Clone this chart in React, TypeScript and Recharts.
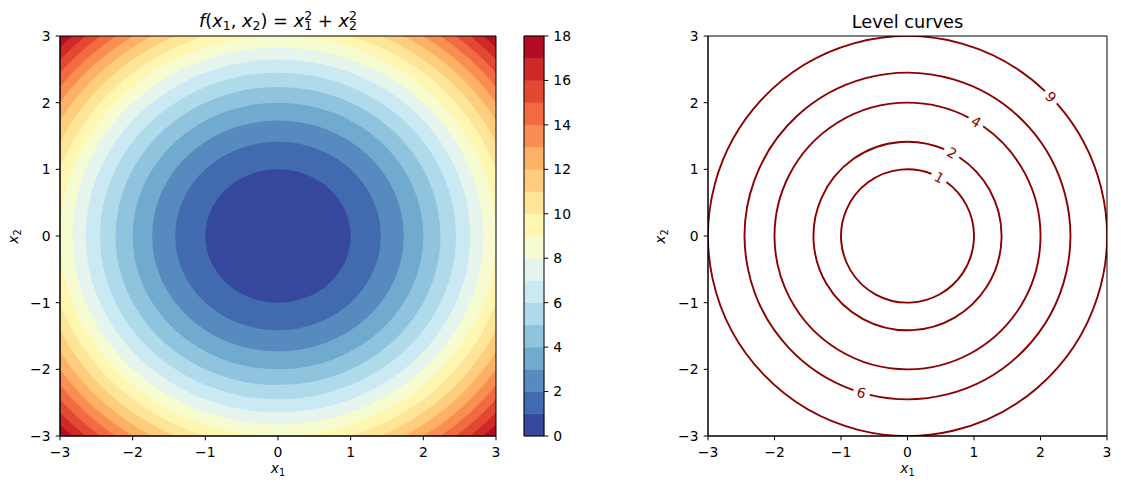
import React from "react";
import { ComposedChart, XAxis, YAxis, ReferenceArea } from "recharts";

// f(x1, x2) = x1^2 + x2^2 on [-3, 3] x [-3, 3]
const AXIS_TICKS = [-3, -2, -1, 0, 1, 2, 3];
const FILL_LEVELS = [0, 1, 2, 3, 4, 5, 6, 7, 8, 9, 10, 11, 12, 13, 14, 15, 16, 17, 18];
const CBAR_TICKS = [0, 2, 4, 6, 8, 10, 12, 14, 16, 18];
const CURVE_LEVELS = [1, 2, 4, 6, 9];
// where each inline label sits on its curve (degrees, counter-clockwise from +x1)
const CURVE_LABEL_ANGLES = [61.5, 61.8, 59, -106.4, 44];

// RdYlBu_r, one colour per band between FILL_LEVELS
const BAND_COLORS = [
  "#36479e", "#426aaf", "#578bbf", "#71aacf", "#90c3dd", "#aedaea",
  "#cbe9f2", "#e5f5ee", "#f6fccf", "#fff6b2", "#fee597", "#fecd7e",
  "#fdb164", "#f98e52", "#f26a41", "#e24832", "#cf2827", "#b30d26",
];

const FONT = "DejaVu Sans";
const TICK = { fontSize: 13.9, fill: "#000", fontFamily: FONT };
const CURVE_COLOR = "#8b0000";
const GAP = 17;

const fmt = (v: number) => (v < 0 ? "\u2212" + Math.abs(v) : String(v));

function ellipseShape(fill: string) {
  return (p: any) => (
    <ellipse
      cx={p.x + p.width / 2}
      cy={p.y + p.height / 2}
      rx={p.width / 2}
      ry={p.height / 2}
      fill={fill}
      stroke="none"
      clipPath={p.clipPath}
    />
  );
}

function ringShape(level: number, angleDeg: number) {
  return (p: any) => {
    const cx = p.x + p.width / 2;
    const cy = p.y + p.height / 2;
    const rx = p.width / 2;
    const ry = p.height / 2;
    const t = (angleDeg * Math.PI) / 180;
    const half = GAP / 2 / rx;
    const pt = (a: number) => [cx + rx * Math.cos(a), cy - ry * Math.sin(a)];
    const [sx, sy] = pt(t + half);
    const [ex, ey] = pt(t - half + 2 * Math.PI);
    const [lx, ly] = pt(t);
    let rot = 90 - angleDeg;
    while (rot > 90) rot -= 180;
    while (rot < -90) rot += 180;
    return (
      <g>
        <path
          d={`M${sx},${sy} A${rx},${ry} 0 1 0 ${ex},${ey}`}
          fill="none"
          stroke={CURVE_COLOR}
          strokeWidth={1.9}
          clipPath={p.clipPath}
        />
        <text
          x={lx}
          y={ly}
          transform={`rotate(${rot} ${lx} ${ly})`}
          textAnchor="middle"
          dominantBaseline="central"
          fontFamily={FONT}
          fontSize={13.9}
          fill={CURVE_COLOR}
        >
          {level}
        </text>
      </g>
    );
  };
}

function Axes() {
  return [
    <XAxis
      key="x"
      type="number"
      dataKey="x"
      domain={[-3, 3]}
      ticks={AXIS_TICKS}
      allowDataOverflow
      interval={0}
      height={54}
      tick={TICK}
      tickFormatter={fmt}
      tickSize={4.3}
      tickMargin={7.2}
      stroke="#000"
    />,
    <YAxis
      key="y"
      type="number"
      dataKey="y"
      domain={[-3, 3]}
      ticks={AXIS_TICKS}
      allowDataOverflow
      interval={0}
      width={60}
      tick={TICK}
      tickFormatter={fmt}
      tickSize={4.3}
      tickMargin={5.2}
      stroke="#000"
    />,
  ];
}

function FilledContour() {
  const bands = [];
  for (let k = FILL_LEVELS.length - 2; k >= 0; k--) {
    const r = Math.sqrt(FILL_LEVELS[k + 1]);
    bands.push(
      <ReferenceArea
        key={k}
        x1={-r}
        x2={r}
        y1={-r}
        y2={r}
        ifOverflow="hidden"
        shape={ellipseShape(BAND_COLORS[k])}
      />
    );
  }
  return (
    <ComposedChart width={520} height={490} margin={{ top: 36, right: 24, bottom: 0, left: 0 }} data={[]}>
      {Axes()}
      <ReferenceArea x1={-3} x2={3} y1={-3} y2={3} fill={BAND_COLORS[17]} fillOpacity={1} ifOverflow="hidden" />
      {bands}
      <ReferenceArea x1={-3} x2={3} y1={-3} y2={3} fill="none" stroke="#000" strokeWidth={1} ifOverflow="visible" />
    </ComposedChart>
  );
}

function ColorBar() {
  return (
    <ComposedChart width={90} height={490} margin={{ top: 36, right: 0, bottom: 54, left: 24 }} data={[]}>
      <XAxis type="number" dataKey="x" domain={[0, 1]} allowDataOverflow hide />
      <YAxis
        type="number"
        dataKey="y"
        orientation="right"
        domain={[0, 18]}
        ticks={CBAR_TICKS}
        allowDataOverflow
        interval={0}
        width={46}
        axisLine={false}
        tick={TICK}
        tickSize={4.3}
        tickMargin={5}
        stroke="#000"
      />
      {BAND_COLORS.map((c, k) => (
        <ReferenceArea
          key={k}
          x1={0}
          x2={1}
          y1={FILL_LEVELS[k]}
          y2={FILL_LEVELS[k + 1]}
          fill={c}
          fillOpacity={1}
          stroke={c}
          strokeWidth={0.5}
          ifOverflow="visible"
        />
      ))}
      <ReferenceArea x1={0} x2={1} y1={0} y2={18} fill="none" stroke="#000" strokeWidth={1} ifOverflow="visible" />
    </ComposedChart>
  );
}

function LevelCurves() {
  return (
    <ComposedChart width={473} height={490} margin={{ top: 36, right: 14, bottom: 0, left: 0 }} data={[]}>
      {Axes()}
      {CURVE_LEVELS.map((c, i) => {
        const r = Math.sqrt(c);
        return (
          <ReferenceArea
            key={c}
            x1={-r}
            x2={r}
            y1={-r}
            y2={r}
            ifOverflow="hidden"
            shape={ringShape(c, CURVE_LABEL_ANGLES[i])}
          />
        );
      })}
      <ReferenceArea x1={-3} x2={3} y1={-3} y2={3} fill="none" stroke="#000" strokeWidth={1} ifOverflow="visible" />
    </ComposedChart>
  );
}

function XLabel({ x, y, sub }: { x: number; y: number; sub: string }) {
  return (
    <text x={x} y={y} textAnchor="middle" fontSize={13.9}>
      <tspan fontStyle="italic">x</tspan>
      <tspan fontSize={9.7} dy={2.6}>{sub}</tspan>
    </text>
  );
}

function Overlay() {
  const s = 12.5;
  return (
    <svg
      width={1121}
      height={490}
      style={{ position: "absolute", left: 0, top: 0, pointerEvents: "none" }}
      fontFamily={FONT}
      fill="#000"
    >
      <text x={278} y={27} textAnchor="middle" fontSize={17.8}>
        <tspan fontStyle="italic">f</tspan>
        <tspan>(</tspan>
        <tspan fontStyle="italic">x</tspan>
        <tspan fontSize={s} dy={3.2}>1</tspan>
        <tspan dy={-3.2}>, </tspan>
        <tspan fontStyle="italic">x</tspan>
        <tspan fontSize={s} dy={3.2}>2</tspan>
        <tspan dy={-3.2}>) = </tspan>
        <tspan fontStyle="italic">x</tspan>
        <tspan fontSize={s} dy={-7.5}>2</tspan>
        <tspan fontSize={s} dx={-7.9} dy={10.7}>1</tspan>
        <tspan dy={-3.2}> + </tspan>
        <tspan fontStyle="italic">x</tspan>
        <tspan fontSize={s} dy={-7.5}>2</tspan>
        <tspan fontSize={s} dx={-7.9} dy={10.7}>2</tspan>
      </text>
      <text x={907.5} y={28} textAnchor="middle" fontSize={17.8}>
        Level curves
      </text>
      <XLabel x={278} y={473} sub="1" />
      <XLabel x={907.5} y={473} sub="1" />
      <g transform="translate(18 236.5) rotate(-90)">
        <XLabel x={0} y={0} sub="2" />
      </g>
      <g transform="translate(665 236.5) rotate(-90)">
        <XLabel x={0} y={0} sub="2" />
      </g>
    </svg>
  );
}

export default function App() {
  return (
    <div
      style={{
        position: "absolute",
        left: 0,
        top: 0,
        width: 1121,
        height: 490,
        background: "#fff",
        overflow: "hidden",
        fontFamily: FONT,
      }}
    >
      <div style={{ position: "absolute", left: 0, top: 0 }}>
        <FilledContour />
      </div>
      <div style={{ position: "absolute", left: 500, top: 0 }}>
        <ColorBar />
      </div>
      <div style={{ position: "absolute", left: 648, top: 0 }}>
        <LevelCurves />
      </div>
      <Overlay />
    </div>
  );
}
